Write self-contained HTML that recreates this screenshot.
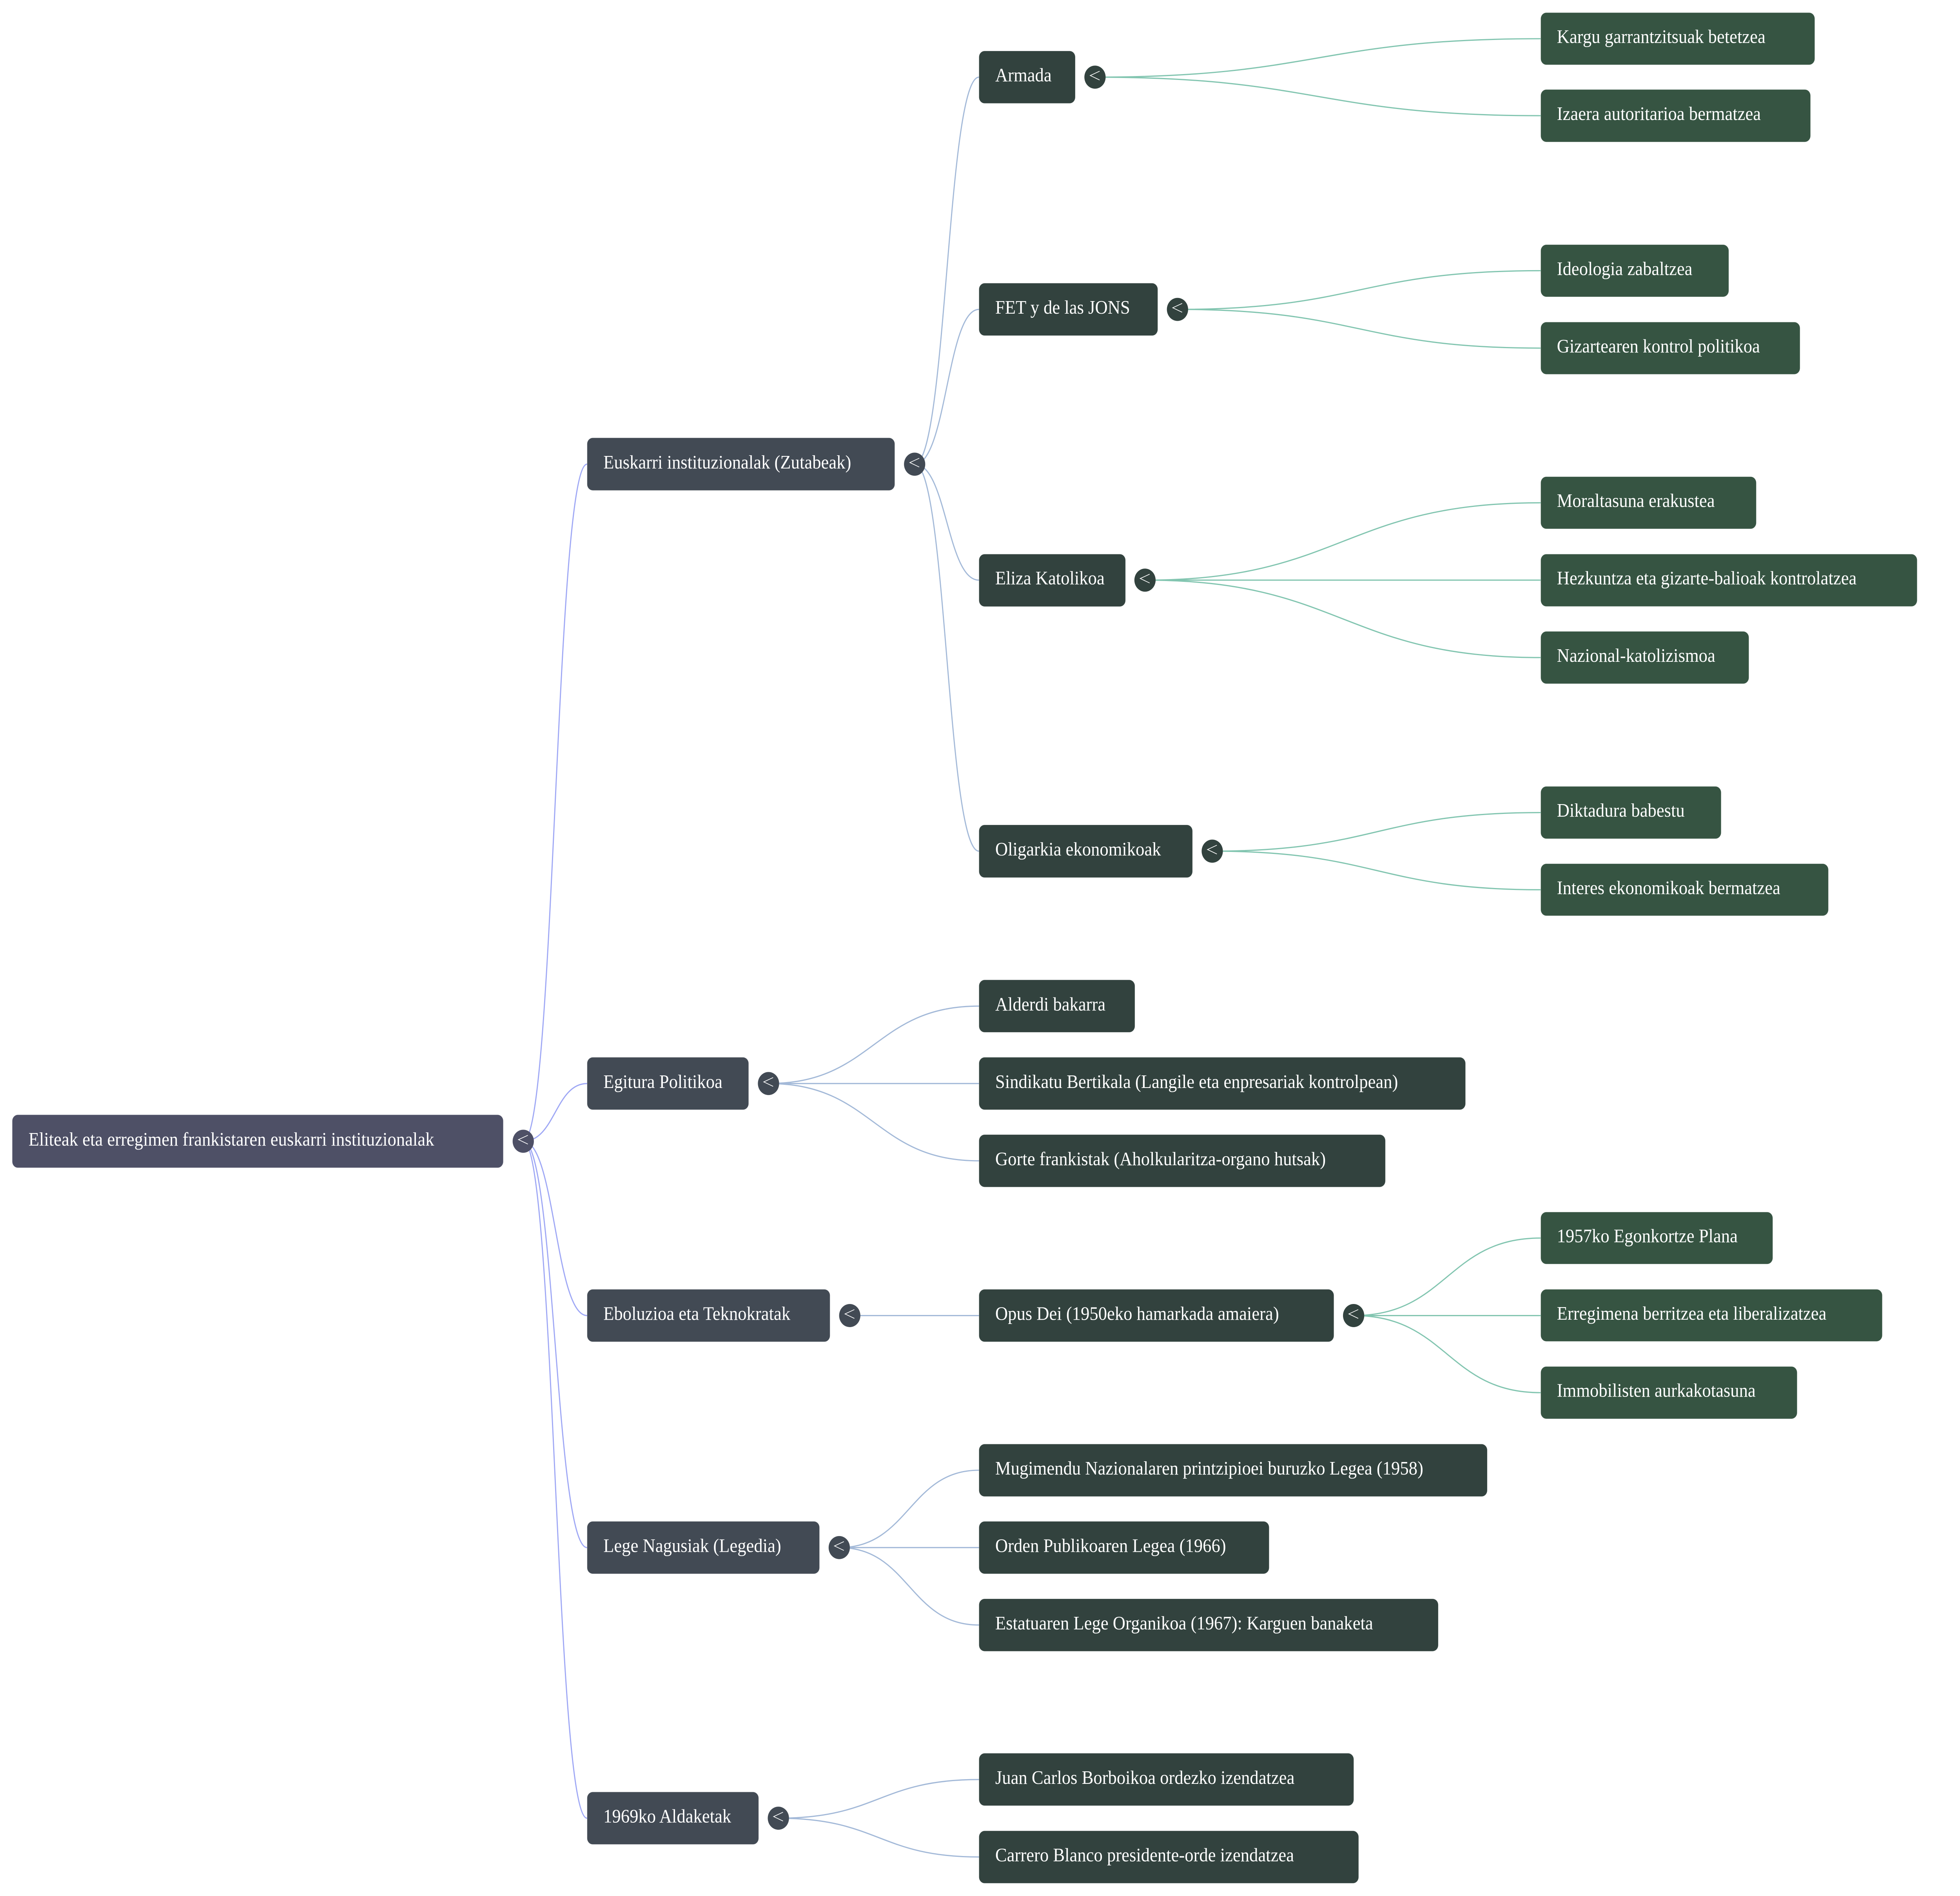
<!DOCTYPE html>
<html>
<head>
<meta charset="utf-8">
<style>
  html, body { margin: 0; padding: 0; background: #ffffff; width: 100%; height: 100%; overflow: hidden; }
  svg { display: block; width: 100vw; height: 100vh; }
  text { font-family: "Liberation Serif", "Times New Roman", serif; font-size: 14px; fill: #ffffff; }
  .e0 { fill: none; stroke: #9ea7f5; stroke-width: 0.9; }
  .e1 { fill: none; stroke: #a3b9d8; stroke-width: 0.9; }
  .e2 { fill: none; stroke: #82c5b0; stroke-width: 0.9; }
  .n0 { fill: #4e5066; stroke: rgba(255,255,255,0.3); stroke-width: 0.3; }
  .n1 { fill: #424a54; stroke: rgba(255,255,255,0.3); stroke-width: 0.3; }
  .n2 { fill: #32423e; stroke: rgba(255,255,255,0.3); stroke-width: 0.3; }
  .n3 { fill: #365442; stroke: rgba(255,255,255,0.3); stroke-width: 0.3; }
  .chev { fill: none; stroke: #ffffff; stroke-width: 0.5; }
</style>
</head>
<body>
<svg viewBox="0 0 1568 1395.67" preserveAspectRatio="none" xmlns="http://www.w3.org/2000/svg">
  <!-- root -> level1 edges -->
  <path class="e0" d="M418.6,840.1 C444.15,840.1 444.15,341.65 469.7,341.65"/>
  <path class="e0" d="M418.6,840.1 C444.15,840.1 444.15,797.6 469.7,797.6"/>
  <path class="e0" d="M418.6,840.1 C444.15,840.1 444.15,968.4 469.7,968.4"/>
  <path class="e0" d="M418.6,840.1 C444.15,840.1 444.15,1139.2 469.7,1139.2"/>
  <path class="e0" d="M418.6,840.1 C444.15,840.1 444.15,1338.4 469.7,1338.4"/>

  <!-- level1 -> level2 edges -->
  <path class="e1" d="M731.7,341.7 C757.45,341.7 757.45,56.8 783.2,56.8"/>
  <path class="e1" d="M731.7,341.7 C757.45,341.7 757.45,227.75 783.2,227.75"/>
  <path class="e1" d="M731.7,341.7 C757.45,341.7 757.45,427.05 783.2,427.05"/>
  <path class="e1" d="M731.7,341.7 C757.45,341.7 757.45,626.55 783.2,626.55"/>

  <path class="e1" d="M614.8,797.6 C699,797.6 699,740.6 783.2,740.6"/>
  <path class="e1" d="M614.8,797.6 C699,797.6 699,797.6 783.2,797.6"/>
  <path class="e1" d="M614.8,797.6 C699,797.6 699,854.5 783.2,854.5"/>

  <path class="e1" d="M679.8,968.4 L783.2,968.4"/>

  <path class="e1" d="M671.4,1139.2 C727.3,1139.2 727.3,1082.25 783.2,1082.25"/>
  <path class="e1" d="M671.4,1139.2 C727.3,1139.2 727.3,1139.2 783.2,1139.2"/>
  <path class="e1" d="M671.4,1139.2 C727.3,1139.2 727.3,1196.2 783.2,1196.2"/>

  <path class="e1" d="M622.7,1338.4 C702.95,1338.4 702.95,1309.95 783.2,1309.95"/>
  <path class="e1" d="M622.7,1338.4 C702.95,1338.4 702.95,1366.95 783.2,1366.95"/>

  <!-- level2 -> level3 edges -->
  <path class="e2" d="M876,56.8 C1054.25,56.8 1054.25,28.5 1232.5,28.5"/>
  <path class="e2" d="M876,56.8 C1054.25,56.8 1054.25,85.15 1232.5,85.15"/>

  <path class="e2" d="M942,227.75 C1087.25,227.75 1087.25,199.25 1232.5,199.25"/>
  <path class="e2" d="M942,227.75 C1087.25,227.75 1087.25,256.25 1232.5,256.25"/>

  <path class="e2" d="M916,427.05 C1074.25,427.05 1074.25,370.1 1232.5,370.1"/>
  <path class="e2" d="M916,427.05 L1232.5,427.05"/>
  <path class="e2" d="M916,427.05 C1074.25,427.05 1074.25,484.05 1232.5,484.05"/>

  <path class="e2" d="M969.8,626.55 C1101.15,626.55 1101.15,598.15 1232.5,598.15"/>
  <path class="e2" d="M969.8,626.55 C1101.15,626.55 1101.15,654.95 1232.5,654.95"/>

  <path class="e2" d="M1082.9,968.4 C1157.7,968.4 1157.7,911.35 1232.5,911.35"/>
  <path class="e2" d="M1082.9,968.4 L1232.5,968.4"/>
  <path class="e2" d="M1082.9,968.4 C1157.7,968.4 1157.7,1025.15 1232.5,1025.15"/>

  <!-- root node -->
  <rect class="n0" x="9.8" y="820.6" width="392.8" height="39" rx="4.5"/>
  <text x="22.8" y="843.3">Eliteak eta erregimen frankistaren euskarri instituzionalak</text>

  <!-- level1 nodes -->
  <rect class="n1" x="469.7" y="322.3" width="246.1" height="38.7" rx="4.5"/>
  <text x="482.7" y="344.9">Euskarri instituzionalak (Zutabeak)</text>

  <rect class="n1" x="469.7" y="778.3" width="129.2" height="38.6" rx="4.5"/>
  <text x="482.7" y="800.8">Egitura Politikoa</text>

  <rect class="n1" x="469.7" y="949.1" width="194.3" height="38.6" rx="4.5"/>
  <text x="482.7" y="971.6">Eboluzioa eta Teknokratak</text>

  <rect class="n1" x="469.7" y="1119.9" width="185.9" height="38.6" rx="4.5"/>
  <text x="482.7" y="1142.4">Lege Nagusiak (Legedia)</text>

  <rect class="n1" x="469.7" y="1319.1" width="137.2" height="38.6" rx="4.5"/>
  <text x="482.7" y="1341.6">1969ko Aldaketak</text>

  <!-- level2 nodes -->
  <rect class="n2" x="783.2" y="37.5" width="77" height="38.6" rx="4.5"/>
  <text x="796.2" y="59.9">Armada</text>

  <rect class="n2" x="783.2" y="208.45" width="143" height="38.6" rx="4.5"/>
  <text x="796.2" y="230.9">FET y de las JONS</text>

  <rect class="n2" x="783.2" y="407.9" width="117.2" height="38.6" rx="4.5"/>
  <text x="796.2" y="430.2">Eliza Katolikoa</text>

  <rect class="n2" x="783.2" y="607.2" width="170.8" height="38.8" rx="4.5"/>
  <text x="796.2" y="629.7">Oligarkia ekonomikoak</text>

  <rect class="n2" x="783.2" y="721.3" width="124.7" height="38.6" rx="4.5"/>
  <text x="796.2" y="743.8">Alderdi bakarra</text>

  <rect class="n2" x="783.2" y="778.3" width="389.2" height="38.6" rx="4.5"/>
  <text x="796.2" y="800.8">Sindikatu Bertikala (Langile eta enpresariak kontrolpean)</text>

  <rect class="n2" x="783.2" y="835.2" width="325.1" height="38.6" rx="4.5"/>
  <text x="796.2" y="857.7">Gorte frankistak (Aholkularitza-organo hutsak)</text>

  <rect class="n2" x="783.2" y="949.1" width="283.9" height="38.6" rx="4.5"/>
  <text x="796.2" y="971.6">Opus Dei (1950eko hamarkada amaiera)</text>

  <rect class="n2" x="783.2" y="1063" width="406.6" height="38.6" rx="4.5"/>
  <text x="796.2" y="1085.5">Mugimendu Nazionalaren printzipioei buruzko Legea (1958)</text>

  <rect class="n2" x="783.2" y="1119.9" width="232.1" height="38.6" rx="4.5"/>
  <text x="796.2" y="1142.4">Orden Publikoaren Legea (1966)</text>

  <rect class="n2" x="783.2" y="1176.9" width="367.4" height="38.6" rx="4.5"/>
  <text x="796.2" y="1199.4">Estatuaren Lege Organikoa (1967): Karguen banaketa</text>

  <rect class="n2" x="783.2" y="1290.6" width="299.8" height="38.6" rx="4.5"/>
  <text x="796.2" y="1313.1">Juan Carlos Borboikoa ordezko izendatzea</text>

  <rect class="n2" x="783.2" y="1347.7" width="303.7" height="38.6" rx="4.5"/>
  <text x="796.2" y="1370.2">Carrero Blanco presidente-orde izendatzea</text>

  <!-- level3 nodes -->
  <rect class="n3" x="1232.6" y="9.3" width="219.2" height="38.4" rx="4.5"/>
  <text x="1245.5" y="31.6">Kargu garrantzitsuak betetzea</text>

  <rect class="n3" x="1232.6" y="65.9" width="215.8" height="38.6" rx="4.5"/>
  <text x="1245.5" y="88.3">Izaera autoritarioa bermatzea</text>

  <rect class="n3" x="1232.6" y="180.1" width="150.4" height="38.4" rx="4.5"/>
  <text x="1245.5" y="202.4">Ideologia zabaltzea</text>

  <rect class="n3" x="1232.6" y="237.1" width="207.4" height="38.4" rx="4.5"/>
  <text x="1245.5" y="259.4">Gizartearen kontrol politikoa</text>

  <rect class="n3" x="1232.6" y="350.9" width="172.4" height="38.4" rx="4.5"/>
  <text x="1245.5" y="373.2">Moraltasuna erakustea</text>

  <rect class="n3" x="1232.6" y="407.9" width="301.1" height="38.5" rx="4.5"/>
  <text x="1245.5" y="430.2">Hezkuntza eta gizarte-balioak kontrolatzea</text>

  <rect class="n3" x="1232.6" y="464.8" width="166.5" height="38.5" rx="4.5"/>
  <text x="1245.5" y="487.1">Nazional-katolizismoa</text>

  <rect class="n3" x="1232.6" y="578.9" width="144.3" height="38.5" rx="4.5"/>
  <text x="1245.5" y="601.2">Diktadura babestu</text>

  <rect class="n3" x="1232.6" y="635.8" width="230.1" height="38.3" rx="4.5"/>
  <text x="1245.5" y="658.1">Interes ekonomikoak bermatzea</text>

  <rect class="n3" x="1232.6" y="892.2" width="185.6" height="38.3" rx="4.5"/>
  <text x="1245.5" y="914.5">1957ko Egonkortze Plana</text>

  <rect class="n3" x="1232.6" y="949.1" width="273.2" height="38.3" rx="4.5"/>
  <text x="1245.5" y="971.4">Erregimena berritzea eta liberalizatzea</text>

  <rect class="n3" x="1232.6" y="1005.9" width="205.1" height="38.5" rx="4.5"/>
  <text x="1245.5" y="1028.2">Immobilisten aurkakotasuna</text>

  <!-- collapse circles -->
  <circle cx="418.6" cy="840.1" r="8.5" fill="#4e5066"/>
  <path class="chev" d="M422.3,835.7 L414.8,838.9 L422.3,842.2"/>

  <g fill="#424a54">
    <circle cx="731.7" cy="341.7" r="8.5"/>
    <circle cx="614.8" cy="797.6" r="8.5"/>
    <circle cx="679.8" cy="968.4" r="8.5"/>
    <circle cx="671.4" cy="1139.2" r="8.5"/>
    <circle cx="622.7" cy="1338.4" r="8.5"/>
  </g>
  <path class="chev" d="M735.4,337.3 L727.9,340.5 L735.4,343.8"/>
  <path class="chev" d="M618.5,793.2 L611,796.4 L618.5,799.7"/>
  <path class="chev" d="M683.5,964 L676,967.2 L683.5,970.5"/>
  <path class="chev" d="M675.1,1134.8 L667.6,1138 L675.1,1141.3"/>
  <path class="chev" d="M626.4,1334 L618.9,1337.2 L626.4,1340.5"/>

  <g fill="#32423e">
    <circle cx="876" cy="56.8" r="8.5"/>
    <circle cx="942" cy="227.75" r="8.5"/>
    <circle cx="916" cy="427.05" r="8.5"/>
    <circle cx="969.8" cy="626.55" r="8.5"/>
    <circle cx="1082.9" cy="968.4" r="8.5"/>
  </g>
  <path class="chev" d="M879.7,52.4 L872.2,55.6 L879.7,58.9"/>
  <path class="chev" d="M945.7,223.35 L938.2,226.55 L945.7,229.85"/>
  <path class="chev" d="M919.7,422.65 L912.2,425.85 L919.7,429.15"/>
  <path class="chev" d="M973.5,622.15 L966,625.35 L973.5,628.65"/>
  <path class="chev" d="M1086.6,964 L1079.1,967.2 L1086.6,970.5"/>
</svg>
</body>
</html>
